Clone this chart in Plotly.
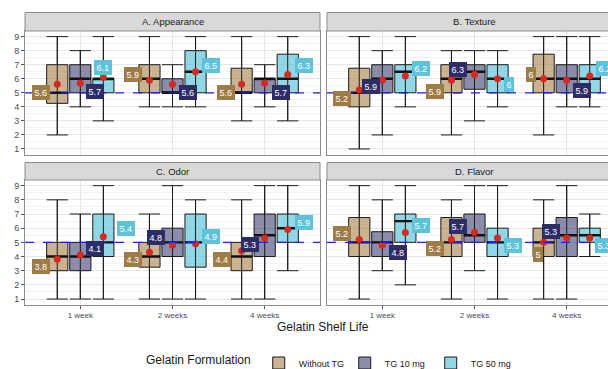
import plotly.graph_objects as go

# ---------------- data ----------------
weeks = ["1 week", "2 weeks", "4 weeks"]
groups = ["Without TG", "TG 10 mg", "TG 50 mg"]
panels = ["A. Appearance", "B. Texture", "C. Odor", "D. Flavor"]

# each list: rows = groups (Without TG, TG 10 mg, TG 50 mg), cols = weeks
appearance_low = [[2, 4, 3], [4, 4, 4], [3, 4, 3]]
appearance_q1 = [[4.25, 5, 5], [5, 5, 5], [5, 5, 5]]
appearance_med = [[5, 6, 5], [6, 5, 6], [6, 6.5, 6]]
appearance_q3 = [[7, 7, 6.75], [7, 6, 6], [6, 8, 7.75]]
appearance_high = [[9, 9, 9], [8, 7, 7], [9, 9, 9]]
appearance_mean = [[5.6, 5.9, 5.6], [5.7, 5.6, 5.7], [6.1, 6.5, 6.3]]

texture_low = [[1, 2, 2], [2, 3, 4], [4, 4, 4]]
texture_q1 = [[4, 5, 5], [5, 5.25, 5], [5, 5, 5]]
texture_med = [[5, 6, 6], [6, 6.5, 6], [6.5, 6, 6]]
texture_q3 = [[6.75, 7, 7.75], [7, 7, 7], [7, 7, 7]]
texture_high = [[9, 8, 9], [8, 8, 9], [9, 8, 9]]
texture_mean = [[5.2, 5.9, 6.0], [5.9, 6.3, 5.9], [6.2, 6.0, 6.2]]

odor_low = [[1, 1, 1], [1, 1, 1], [1, 1, 3]]
odor_q1 = [[3, 3.25, 3], [3, 4, 4], [4, 3.25, 5]]
odor_med = [[4, 4, 4], [4, 5, 5.5], [5, 5, 6]]
odor_q3 = [[5, 5, 5], [5, 6, 7], [7, 7, 7]]
odor_high = [[8, 7, 8], [7, 9, 9], [9, 8, 9]]
odor_mean = [[3.8, 4.3, 4.4], [4.1, 4.8, 5.3], [5.4, 4.9, 5.9]]

flavor_low = [[1, 1, 1], [3, 3, 1], [2, 1, 4]]
flavor_q1 = [[4, 4, 4], [4, 5, 4], [5, 4, 5]]
flavor_med = [[5, 5, 5], [5, 5.5, 5.5], [6.5, 5, 5.5]]
flavor_q3 = [[6.75, 6.75, 6], [5.75, 7, 6.75], [7, 6, 6]]
flavor_high = [[9, 8, 8], [8, 9, 9], [9, 9, 7]]
flavor_mean = [[5.2, 5.2, 5.0], [4.8, 5.7, 5.3], [5.7, 5.3, 5.3]]

reference_score = 5

panel_stats = [
    (appearance_low, appearance_q1, appearance_med, appearance_q3, appearance_high, appearance_mean),
    (texture_low, texture_q1, texture_med, texture_q3, texture_high, texture_mean),
    (odor_low, odor_q1, odor_med, odor_q3, odor_high, odor_mean),
    (flavor_low, flavor_q1, flavor_med, flavor_q3, flavor_high, flavor_mean),
]

# ---------------- label placement (repel-like nudges) ----------------
# horizontal nudge in pixels, vertical nudge in score units
label_dx_px = [
    [[-16, -16, -16], [15, 15.7, 16.3], [0, 15.3, 16.7]],
    [[-17, -16.5, -13], [-11.7, -17, 15.7], [15.3, 11.5, 15]],
    [[-16, -16, -20], [15, -16.7, -14.7], [22.7, 15, 16.3]],
    [[-17, -16.5, -5.7], [16, -17, -16], [15.3, 15, 14]],
]
label_dy = [
    [[-0.59, 0.41, -0.56], [-0.59, -0.56, -0.66], [0.73, 0.45, 0.65]],
    [[-0.61, -0.79, 0.31], [-0.44, 0.37, -0.74], [0.51, -0.40, 0.51]],
    [[-0.52, -0.50, -0.60], [0.50, 0.55, -0.42], [0.56, 0.50, 0.49]],
    [[0.44, -0.62, -0.89], [-0.53, 0.45, 0.45], [0.48, -0.51, -0.51]],
]

# ---------------- styles ----------------
box_fill = ["rgba(166,124,68,0.58)", "rgba(46,45,102,0.55)", "rgba(94,196,218,0.68)"]
label_bg = ["#9f7b47", "#2d2c66", "#5ec3da"]
mean_color = "#d42a22"
FONT = "Liberation Sans, Arial, sans-serif"
dodge = 0.25
box_w = 0.23
PX_PER_UNIT = 295 / 3.2

W, H = 608, 369
def fx(px):
    return px / W
def fy(py):
    return 1 - py / H

x_domains = [[fx(25), fx(320)], [fx(327), 1.0]]
y_domains = [[fy(154.6), fy(31)], [fy(304.7), fy(180)]]
x_ranges = [[0.4, 3.6], [0.4, 0.4 + 281 / PX_PER_UNIT]]

fig = go.Figure()
annotations = []
shapes = []

for p, (low, q1, med, q3, high, mean) in enumerate(panel_stats):
    row, col = divmod(p, 2)
    xa = "x" if p == 0 else f"x{p + 1}"
    ya = "y" if p == 0 else f"y{p + 1}"
    for g, gname in enumerate(groups):
        pos = [i + 1 + (g - 1) * dodge for i in range(len(weeks))]
        fig.add_trace(go.Box(
            x=pos, q1=q1[g], median=med[g], q3=q3[g],
            lowerfence=low[g], upperfence=high[g],
            width=box_w, whiskerwidth=1, boxpoints=False,
            fillcolor=box_fill[g], line=dict(color="#1a1a1a", width=1),
            name=gname, legendgroup=gname, showlegend=(p == 0),
            xaxis=xa, yaxis=ya, hoverinfo="skip",
        ))
        # whisker line through the box
        wx, wy, mx, my = [], [], [], []
        for i in range(len(weeks)):
            wx += [pos[i], pos[i], None]
            wy += [low[g][i], high[g][i], None]
            mx += [pos[i] - box_w / 2, pos[i] + box_w / 2, None]
            my += [med[g][i], med[g][i], None]
        fig.add_trace(go.Scatter(x=wx, y=wy, mode="lines",
                                 line=dict(color="#1a1a1a", width=1),
                                 showlegend=False, xaxis=xa, yaxis=ya, hoverinfo="skip"))
        fig.add_trace(go.Scatter(x=mx, y=my, mode="lines",
                                 line=dict(color="#111111", width=2.4),
                                 showlegend=False, xaxis=xa, yaxis=ya, hoverinfo="skip"))
        fig.add_trace(go.Scatter(x=pos, y=mean[g], mode="markers",
                                 marker=dict(color=mean_color, size=7),
                                 showlegend=False, xaxis=xa, yaxis=ya, hoverinfo="skip"))
        for i in range(len(weeks)):
            v = mean[g][i]
            txt = f"{v:g}"
            annotations.append(dict(
                x=pos[i] + label_dx_px[p][g][i] / PX_PER_UNIT,
                y=v + label_dy[p][g][i],
                xref=xa, yref=ya, text=txt, showarrow=False,
                xanchor="center", yanchor="middle",
                font=dict(family=FONT, size=9, color="white"),
                bgcolor=label_bg[g], bordercolor=label_bg[g], borderwidth=1, borderpad=1.5,
            ))
    # reference line
    shapes.append(dict(type="line", xref=f"{xa} domain", x0=0, x1=1, yref=ya,
                       y0=reference_score, y1=reference_score,
                       line=dict(color="#1f1fe6", width=1.3, dash="dash"), layer="above"))
    # strip
    sx0, sx1 = x_domains[col]
    sy_top = fy(12.5) if row == 0 else fy(162.5)
    sy_bot = y_domains[row][1]
    shapes.append(dict(type="rect", xref="paper", yref="paper",
                       x0=sx0, x1=(sx1 if col == 0 else 1.02), y0=sy_bot, y1=sy_top,
                       fillcolor="#d9d9d9", line=dict(color="#8c8c8c", width=1), layer="above"))
    cx = (172.5 if col == 0 else 327 + 147.5) / W
    annotations.append(dict(x=cx, y=(sy_bot + sy_top) / 2, xref="paper", yref="paper",
                            text=panels[p], showarrow=False, xanchor="center", yanchor="middle",
                            font=dict(family=FONT, size=9.5, color="#1a1a1a")))

    xkey = "xaxis" if p == 0 else f"xaxis{p + 1}"
    ykey = "yaxis" if p == 0 else f"yaxis{p + 1}"
    fig.update_layout(**{
        xkey: dict(domain=x_domains[col], range=x_ranges[col], anchor=ya,
                   tickmode="array", tickvals=[1, 2, 3], ticktext=weeks,
                   showticklabels=(row == 1), ticks=("outside" if row == 1 else ""),
                   ticklen=3, tickcolor="#555555",
                   tickfont=dict(family=FONT, size=8, color="#4d4d4d"),
                   showgrid=True, gridcolor="#e6e6e6", gridwidth=1, zeroline=False,
                   showline=True, mirror=True, linecolor="#8c8c8c", linewidth=1,
                   automargin=False),
        ykey: dict(domain=y_domains[row], range=[0.6, 9.4], anchor=xa,
                   tickmode="array", tickvals=list(range(1, 10)),
                   showticklabels=(col == 0), ticks=("outside" if col == 0 else ""),
                   ticklen=3, tickcolor="#555555",
                   tickfont=dict(family=FONT, size=9, color="#4d4d4d"),
                   showgrid=True, gridcolor="#e6e6e6", gridwidth=1, zeroline=False,
                   minor=dict(tickvals=[k + 0.5 for k in range(0, 10)], showgrid=True,
                              gridcolor="#f3f3f3", gridwidth=0.6),
                   showline=True, mirror=(col == 0), linecolor="#8c8c8c", linewidth=1,
                   automargin=False),
    })

# invisible spacer entry so the last legend label is not clipped
fig.add_trace(go.Scatter(x=[None], y=[None], mode="markers", name=" ",
                         marker=dict(color="rgba(0,0,0,0)", size=1,
                                     line=dict(width=0, color="rgba(0,0,0,0)")),
                         showlegend=True, hoverinfo="skip"))

annotations.append(dict(x=323 / W, y=fy(327), xref="paper", yref="paper",
                        text="Gelatin Shelf Life", showarrow=False,
                        xanchor="center", yanchor="middle",
                        font=dict(family=FONT, size=12, color="#1a1a1a")))

fig.update_layout(
    width=W, height=H,
    margin=dict(l=0, r=0, t=0, b=0, autoexpand=False),
    paper_bgcolor="white", plot_bgcolor="white",
    boxmode="overlay",
    annotations=annotations, shapes=shapes,
    font=dict(family=FONT),
    legend=dict(orientation="h", x=fx(144), xanchor="left", y=fy(363), yanchor="middle",
                title=dict(text="Gelatin Formulation", font=dict(family=FONT, size=12, color="#1a1a1a")),
                font=dict(family=FONT, size=9, color="#1a1a1a"),
                itemwidth=30, entrywidth=41, entrywidthmode="pixels",
                bgcolor="rgba(0,0,0,0)"),
)

fig.write_html("out.html", config={"displayModeBar": False},
               post_script="document.body.style.margin='0px';document.body.style.overflow='hidden';")
